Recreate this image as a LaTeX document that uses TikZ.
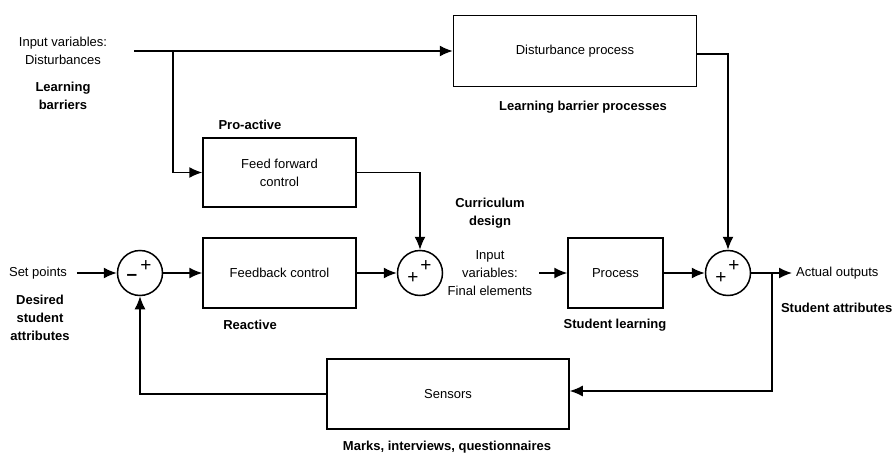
\documentclass[tikz,border=0pt]{standalone}
\usepackage{fontspec}
\setmainfont{Liberation Sans}
\usetikzlibrary{
    arrows.meta,
    positioning,
    calc
}

\begin{document}
\begin{tikzpicture}[
                x=1pt, y=-1pt,
                font=\fontsize{13}{18}\selectfont,
                every path/.style={line width=1.5pt},
                block/.style={draw, rectangle, inner sep=0pt, align=center},
                sum/.style={draw, circle, minimum size=45pt, inner sep=0pt},
                note/.style={align=center, font=\fontsize{13}{18}\selectfont\bfseries},
                txt/.style={align=center},
                sign/.style={inner sep=0pt, font=\fontsize{19}{19}\selectfont},
                >={Latex[length=13pt,width=11pt]}
            ]
                \useasboundingbox (0,0) rectangle (894,455);

                % blocks
                \node[block, minimum width=243pt, minimum height=71pt] (dp) at (575, 51) {Disturbance process};
                \node[block, minimum width=153pt, minimum height=69pt] (ff) at (279.5, 172.5) {Feed forward\\control};
                \node[block, minimum width=153pt, minimum height=70pt] (fb) at (279.5, 273) {Feedback control};
                \node[block, minimum width=95pt, minimum height=70pt] (pr) at (615.5, 273) {Process};
                \node[block, minimum width=242pt, minimum height=70pt] (sen) at (448, 394) {Sensors};

                % summing junctions
                \node[sum] (s1) at (140, 273) {};
                \node[sum] (s2) at (420, 273) {};
                \node[sum] (s3) at (728, 273) {};
                \node[sign] (s1a) at (146, 266) {+};
                \node[sign] (s1b) at (132, 277) {\textbf{\char"2013}};
                \node[sign] (s2a) at (426, 266) {+};
                \node[sign] (s2b) at (413, 278) {+};
                \node[sign] (s3a) at (734, 266) {+};
                \node[sign] (s3b) at (721, 278) {+};

                % plain labels
                \node[txt] (din) at (63, 51) {Input variables:\\Disturbances};
                \node[txt] (sp) at (38, 273) {Set points};
                \node[txt] (iv) at (490, 273) {Input\\variables:\\Final elements};
                \node[txt, anchor=west] (ao) at (792, 273) {Actual outputs};

                % bold notes
                \node[note] (lb) at (63, 96) {Learning\\barriers};
                \node[note] (lbp) at (583, 107) {Learning barrier processes};
                \node[note] (pa) at (250, 125) {Pro-active};
                \node[note] (cd) at (490, 213) {Curriculum\\design};
                \node[note] (dsa) at (40, 318) {Desired\\student\\attributes};
                \node[note] (re) at (250, 325) {Reactive};
                \node[note] (sl) at (615, 325) {Student learning};
                \node[note, anchor=east, inner xsep=1pt] (sa) at (894, 308) {Student attributes};
                \node[note] (miq) at (447, 447) {Marks, interviews, questionnaires};

                % connectors
                \coordinate (in0) at (134, 51);
                \coordinate (br) at (173, 51);
                \coordinate (tap) at (772, 273);
                \draw[->] (in0) -- (dp.west);
                \draw[->] (br) |- (ff.west);
                \draw[->] ([yshift=-3pt]dp.east) -| (s3.north);
                \draw[->] (ff.east) -| (s2.north);
                \draw[->] ([xshift=6pt]sp.east) -- (s1.west);
                \draw[->] (s1.east) -- (fb.west);
                \draw[->] (fb.east) -- (s2.west);
                \draw[->] ([xshift=3pt]iv.east) -- (pr.west);
                \draw[->] (pr.east) -- (s3.west);
                \draw[->] (s3.east) -- (ao.west);
                \draw[->] (tap) |- ([yshift=3pt]sen.east);
                \draw[->] (sen.west) -| (s1.south);
            \end{tikzpicture}
\end{document}
